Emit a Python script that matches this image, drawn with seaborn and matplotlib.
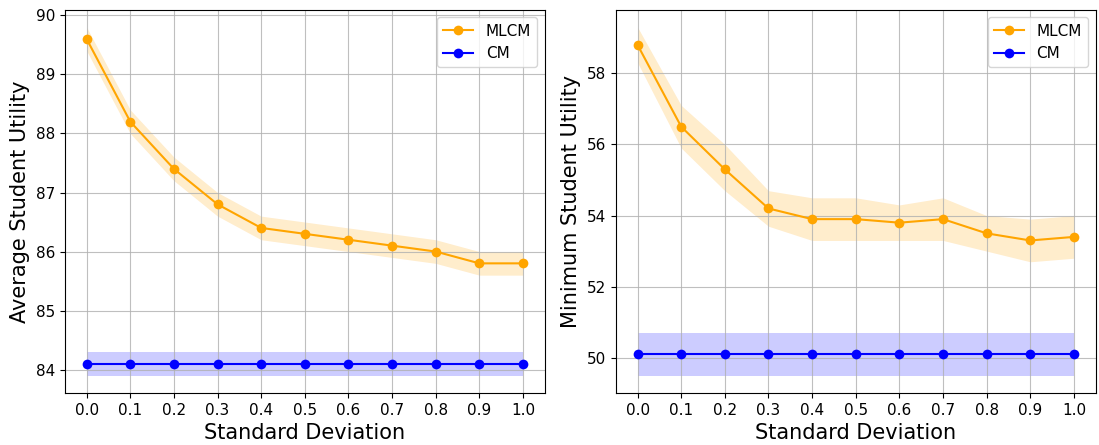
import matplotlib
matplotlib.use("Agg")
import matplotlib.pyplot as plt
import seaborn as sns

# desvio padrão (eixo x)
std_dev = [0.0, 0.1, 0.2, 0.3, 0.4, 0.5, 0.6, 0.7, 0.8, 0.9, 1.0]

# utilidade média
mlcm_avg = [89.6, 88.2, 87.4, 86.8, 86.4, 86.3, 86.2, 86.1, 86.0, 85.8, 85.8]
mlcm_avg_lo = [89.4, 88.0, 87.2, 86.6, 86.2, 86.1, 86.0, 85.9, 85.8, 85.6, 85.6]
mlcm_avg_hi = [89.8, 88.4, 87.6, 87.0, 86.6, 86.5, 86.4, 86.3, 86.2, 86.0, 86.0]
cm_avg = [84.1] * 11
cm_avg_lo = [83.9] * 11
cm_avg_hi = [84.3] * 11

# utilidade mínima
mlcm_min = [58.8, 56.5, 55.3, 54.2, 53.9, 53.9, 53.8, 53.9, 53.5, 53.3, 53.4]
mlcm_min_lo = [58.3, 55.9, 54.7, 53.7, 53.3, 53.3, 53.3, 53.3, 53.0, 52.7, 52.8]
mlcm_min_hi = [59.3, 57.1, 56.0, 54.7, 54.5, 54.5, 54.3, 54.5, 54.0, 53.9, 54.0]
cm_min = [50.1] * 11
cm_min_lo = [49.5] * 11
cm_min_hi = [50.7] * 11


def painel(ax, mlcm, mlcm_lo, mlcm_hi, cm, cm_lo, cm_hi, ylabel):
    sns.lineplot(x=std_dev, y=mlcm, marker="o", color="orange", label="MLCM",
                 markeredgewidth=0, markersize=7, linewidth=1.5, ax=ax)
    ax.fill_between(std_dev, mlcm_lo, mlcm_hi, color="orange", alpha=0.2, linewidth=0)
    sns.lineplot(x=std_dev, y=cm, marker="o", color="blue", label="CM",
                 markeredgewidth=0, markersize=7, linewidth=1.5, ax=ax)
    ax.fill_between(std_dev, cm_lo, cm_hi, color="blue", alpha=0.2, linewidth=0)
    ax.set_xticks(std_dev)
    ax.set_xticklabels([f"{v:.1f}" for v in std_dev])
    ax.tick_params(labelsize=11)
    ax.set_xlabel("Standard Deviation", fontsize=15)
    ax.set_ylabel(ylabel, fontsize=15)
    ax.grid(True, color="#b0b0b0", alpha=0.8)
    ax.legend(loc="upper right", fontsize=11)


fig, (ax1, ax2) = plt.subplots(1, 2, figsize=(10.99, 4.45), dpi=100)
painel(ax1, mlcm_avg, mlcm_avg_lo, mlcm_avg_hi, cm_avg, cm_avg_lo, cm_avg_hi,
       "Average Student Utility")
painel(ax2, mlcm_min, mlcm_min_lo, mlcm_min_hi, cm_min, cm_min_lo, cm_min_hi,
       "Minimum Student Utility")

fig.subplots_adjust(left=0.059, right=0.997, top=0.978, bottom=0.117, wspace=0.148)
plt.savefig("out.png", dpi=100)
